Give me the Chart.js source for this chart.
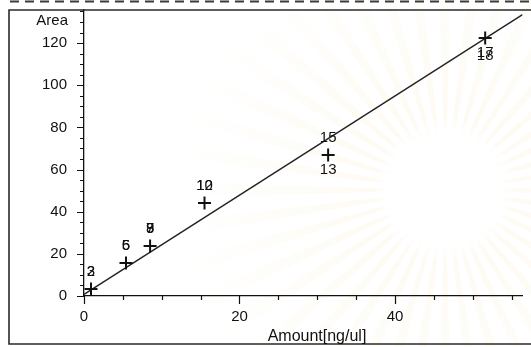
<!DOCTYPE html>
<html>
<head>
<meta charset="utf-8">
<script src="https://cdn.jsdelivr.net/npm/chart.js@4/dist/chart.umd.min.js"></script>
<style>
  html, body { margin: 0; padding: 0; background: #fff; overflow: hidden; }
  canvas { display: block; }
</style>
</head>
<body>
<canvas id="calib" width="531" height="347"></canvas>
<script>
// Calibration points: amount injected vs. integrated peak area
const amounts = [0.9, 5.4, 8.5, 15.5, 31.4, 51.6];
const areas = [3.3, 15.7, 23.7, 44.1, 66.9, 122.4];
// Peak numbers printed next to each calibration level (overprinted replicates)
const peaksAbove = [['2', '3'], ['5', '6'], ['7', '8', '9'], ['10', '12'], ['15'], []];
const peaksBelow = [[], [], [], [], ['13'], ['17', '18']];
// Least-squares calibration line, given by its two end points
const fitAmounts = [0, 56.4];
const fitAreas = [0.8, 133.5];
// Axis ranges and labels
const xRange = [0, 56.4];
const yRange = [0, 135.7];
const xTitle = 'Amount[ng/ul]';
const yTitle = 'Area';

const FONT = '"Liberation Sans", Arial, sans-serif';
const INK = '#111';

const decor = {
  id: 'decor',
  beforeDraw(chart) {
    // faint seal print behind the plot
    const ctx = chart.ctx;
    const cx = 445, cy = 190;
    ctx.save();
    const n = 44;
    for (let i = 0; i < n; i++) {
      const a = (i / n) * Math.PI * 2;
      const w = 0.028;
      const g = ctx.createRadialGradient(cx, cy, 55, cx, cy, 270);
      g.addColorStop(0, 'rgba(244,228,175,0.0)');
      g.addColorStop(0.08, 'rgba(244,228,175,0.16)');
      g.addColorStop(0.5, 'rgba(244,228,175,0.09)');
      g.addColorStop(1, 'rgba(244,228,175,0)');
      ctx.fillStyle = g;
      ctx.beginPath();
      ctx.moveTo(cx + Math.cos(a - w) * 55, cy + Math.sin(a - w) * 55);
      ctx.lineTo(cx + Math.cos(a - w) * 270, cy + Math.sin(a - w) * 270);
      ctx.lineTo(cx + Math.cos(a + w) * 270, cy + Math.sin(a + w) * 270);
      ctx.lineTo(cx + Math.cos(a + w) * 55, cy + Math.sin(a + w) * 55);
      ctx.closePath();
      ctx.fill();
    }
    ctx.restore();
  },
  afterDraw(chart) {
    const ctx = chart.ctx;
    const xs = chart.scales.x, ys = chart.scales.y;
    const area = chart.chartArea;
    const W = chart.width;
    ctx.save();

    // outer frame
    ctx.strokeStyle = '#2a2a2a';
    ctx.lineWidth = 1.6;
    ctx.beginPath();
    ctx.moveTo(W + 2, 10);
    ctx.lineTo(9, 10);
    ctx.lineTo(9, 344);
    ctx.lineTo(W + 2, 344);
    ctx.stroke();

    // dashed rule along the top edge
    ctx.setLineDash([9, 6]);
    ctx.lineWidth = 2;
    ctx.strokeStyle = '#3a3a3a';
    ctx.beginPath();
    ctx.moveTo(10, 1.5);
    ctx.lineTo(W, 1.5);
    ctx.stroke();
    ctx.setLineDash([]);

    // major / minor tick marks
    ctx.strokeStyle = INK;
    ctx.lineWidth = 1.2;
    ctx.beginPath();
    for (let v = yRange[0]; v <= yRange[1]; v += 5) {
      const y = Math.round(ys.getPixelForValue(v)) + 0.5;
      const len = v % 20 === 0 ? 7 : 4;
      ctx.moveTo(area.left - len, y);
      ctx.lineTo(area.left, y);
    }
    for (let v = xRange[0]; v <= xRange[1]; v += 5) {
      const x = Math.round(xs.getPixelForValue(v)) + 0.5;
      const len = v % 20 === 0 ? 8 : 4;
      ctx.moveTo(x, area.bottom);
      ctx.lineTo(x, area.bottom + len);
    }
    ctx.stroke();

    // peak numbers beside the calibration points
    ctx.fillStyle = INK;
    ctx.font = '15px ' + FONT;
    ctx.textAlign = 'center';
    ctx.textBaseline = 'middle';
    amounts.forEach((a, i) => {
      const px = xs.getPixelForValue(a);
      const py = ys.getPixelForValue(areas[i]);
      peaksAbove[i].forEach(t => ctx.fillText(t, px, py - 17));
      peaksBelow[i].forEach((t, k) => ctx.fillText(t, px, py + 15 + k * 3));
    });

    // axis titles
    ctx.font = '15px ' + FONT;
    ctx.textAlign = 'right';
    ctx.fillText(yTitle, 68, 20.5);
    ctx.font = '16px ' + FONT;
    ctx.textAlign = 'center';
    ctx.fillText(xTitle, 317, 337);
    ctx.restore();
  }
};

new Chart(document.getElementById('calib'), {
  type: 'scatter',
  data: {
    datasets: [
      {
        data: fitAmounts.map((x, i) => ({ x, y: fitAreas[i] })),
        showLine: true,
        borderColor: '#222',
        borderWidth: 1.4,
        pointRadius: 0,
        order: 2
      },
      {
        data: amounts.map((x, i) => ({ x, y: areas[i] })),
        showLine: false,
        pointStyle: 'cross',
        pointRadius: 6.5,
        borderColor: '#111',
        borderWidth: 2,
        order: 1
      }
    ]
  },
  options: {
    responsive: false,
    animation: false,
    devicePixelRatio: 1,
    layout: { padding: { top: 10, left: 0, right: 0, bottom: 0 } },
    plugins: { legend: { display: false }, tooltip: { enabled: false } },
    scales: {
      x: {
        type: 'linear',
        min: xRange[0],
        max: xRange[1],
        afterFit(s) { s.height = 51; s.paddingLeft = 0; s.paddingRight = 0; },
        grid: { display: false },
        border: { display: true, color: INK, width: 1.3 },
        ticks: {
          stepSize: 20,
          includeBounds: false,
          padding: 4,
          color: INK,
          font: { family: FONT, size: 15 }
        }
      },
      y: {
        type: 'linear',
        min: yRange[0],
        max: yRange[1],
        afterFit(s) { s.width = 84; s.paddingTop = 0; s.paddingBottom = 0; },
        grid: { display: false },
        border: { display: true, color: INK, width: 1.3 },
        ticks: {
          stepSize: 20,
          includeBounds: false,
          padding: 9,
          color: INK,
          font: { family: FONT, size: 15 }
        }
      }
    }
  },
  plugins: [decor]
});
</script>
</body>
</html>
